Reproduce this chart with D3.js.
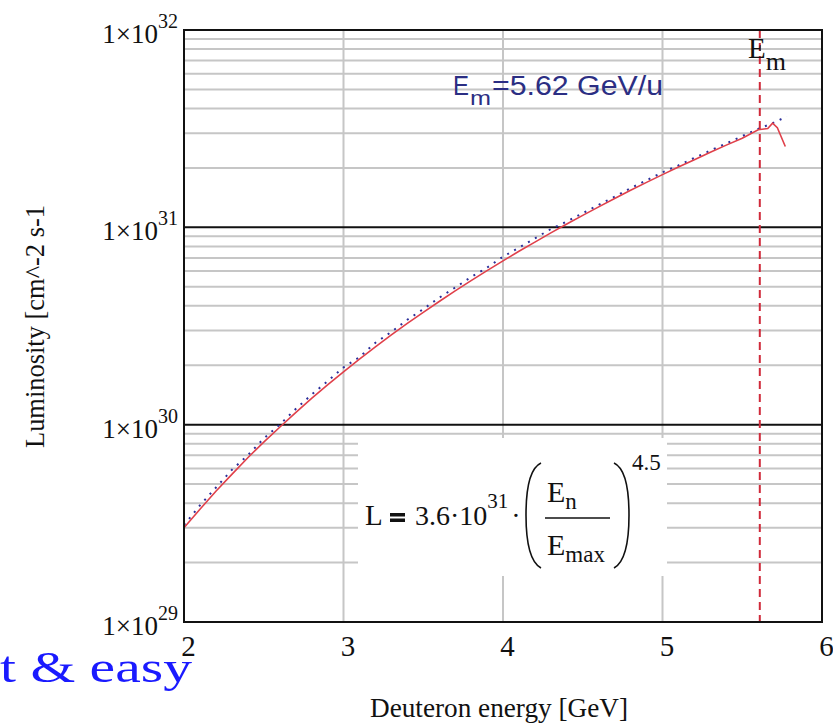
<!DOCTYPE html>
<html><head><meta charset="utf-8">
<script src="https://cdn.jsdelivr.net/npm/d3@7"></script>
<style>html,body{margin:0;padding:0;background:#fff;overflow:hidden} svg{display:block}</style>
</head><body>
<svg id="c" width="833" height="724"></svg>
<script>
// ---- data ----
const energyRed = [2.0,2.1,2.2,2.3,2.4,2.5,2.6,2.7,2.8,2.9,3.0,3.1,3.2,3.3,3.4,3.5,3.6,3.7,3.8,3.9,4.0,4.1,4.2,4.3,4.4,4.5,4.6,4.7,4.8,4.9,5.0,5.1,5.2,5.3,5.4,5.5,5.6,5.66,5.69,5.72,5.77];
const lumRed = [3.0e29,3.73e29,4.6e29,5.6e29,6.8e29,8.16e29,9.7e29,1.15e30,1.36e30,1.59e30,1.85e30,2.15e30,2.48e30,2.85e30,3.26e30,3.71e30,4.21e30,4.76e30,5.37e30,6.03e30,6.76e30,7.56e30,8.42e30,9.37e30,1.04e31,1.15e31,1.27e31,1.40e31,1.54e31,1.69e31,1.85e31,2.02e31,2.20e31,2.40e31,2.61e31,2.83e31,3.12e31,3.17e31,3.37e31,3.2e31,2.57e31];
const energyBlue = [2.0,2.1,2.2,2.3,2.4,2.5,2.6,2.7,2.8,2.9,3.0,3.1,3.2,3.3,3.4,3.5,3.6,3.7,3.8,3.9,4.0,4.1,4.2,4.3,4.4,4.5,4.6,4.7,4.8,4.9,5.0,5.1,5.2,5.3,5.4,5.5,5.6,5.7,5.78];
const lumBlue = [3.1e29,3.9e29,4.8e29,5.9e29,7.0e29,8.5e29,1.0e30,1.2e30,1.42e30,1.66e30,1.95e30,2.2e30,2.6e30,2.95e30,3.4e30,3.85e30,4.4e30,4.95e30,5.6e30,6.25e30,7.1e30,7.9e30,8.8e30,9.8e30,1.07e31,1.18e31,1.3e31,1.43e31,1.58e31,1.73e31,1.9e31,2.06e31,2.25e31,2.45e31,2.66e31,2.9e31,3.15e31,3.4e31,3.65e31];
const xTicks = [2,3,4,5,6];
const xGridTicks = [3,4,5];
const yDecades = [1e29,1e30,1e31,1e32];
const yExponents = ["29","30","31","32"];
const minorMults = [2,3,4,5,6,7,8,9];
const eMarker = 5.61;

// ---- layout ----
const svg = d3.select("#c");
const x = d3.scaleLinear().domain([2,6]).range([184,822]);
const y = d3.scaleLog().domain([1e29,1e32]).range([622,30]);
const serif = "'Liberation Serif','Times New Roman',serif";
const sans = "'Liberation Sans',Arial,sans-serif";

svg.append("rect").attr("width",833).attr("height",724).attr("fill","#fff");

// minor horizontal grid
const minors = [];
yDecades.slice(0,3).forEach(d => minorMults.forEach(m => minors.push(d*m)));
svg.append("g").selectAll("line").data(minors).join("line")
  .attr("x1",x(2)).attr("x2",x(6)).attr("y1",d=>y(d)).attr("y2",d=>y(d))
  .attr("stroke","#c6c6c6").attr("stroke-width",2);
// vertical grid
svg.append("g").selectAll("line").data(xGridTicks).join("line")
  .attr("x1",d=>x(d)).attr("x2",d=>x(d)).attr("y1",y(1e32)).attr("y2",y(1e29))
  .attr("stroke","#c6c6c6").attr("stroke-width",2);
// major horizontal
svg.append("g").selectAll("line").data([1e30,1e31]).join("line")
  .attr("x1",x(2)).attr("x2",x(6)).attr("y1",d=>y(d)).attr("y2",d=>y(d))
  .attr("stroke","#111").attr("stroke-width",2);

// formula box (white)
svg.append("rect").attr("x",358).attr("y",438).attr("width",309).attr("height",138).attr("fill","#fff");

// blue dotted data
const lineGen = d3.line().x(d=>x(d[0])).y(d=>y(d[1]));
svg.append("path").datum(energyBlue.map((e,i)=>[e,lumBlue[i]]))
  .attr("d",lineGen).attr("fill","none").attr("stroke","#2b2f9a")
  .attr("stroke-width",2).attr("stroke-dasharray","2,6");
// red fit line
svg.append("path").datum(energyRed.map((e,i)=>[e,lumRed[i]]))
  .attr("d",lineGen).attr("fill","none").attr("stroke","#e0404a")
  .attr("stroke-width",1.6);

// marker dashed vertical
svg.append("line").attr("x1",x(eMarker)).attr("x2",x(eMarker))
  .attr("y1",y(1e32)).attr("y2",y(1e29))
  .attr("stroke","#d02a3a").attr("stroke-width",2).attr("stroke-dasharray","8,5");

// border
svg.append("rect").attr("x",x(2)).attr("y",y(1e32)).attr("width",x(6)-x(2)).attr("height",y(1e29)-y(1e32))
  .attr("fill","none").attr("stroke","#111").attr("stroke-width",2);

// x axis labels
const xAxis = d3.axisBottom(x).tickValues(xTicks).tickSize(0).tickPadding(0).tickFormat(d3.format("d"));
const gx = svg.append("g").attr("transform",`translate(4,${y(1e29)})`).call(xAxis);
gx.select(".domain").remove();
gx.selectAll("text").attr("font-family",serif).attr("font-size",29).attr("fill","#111")
  .attr("dy",null).attr("y",34);

// y axis labels (single text with superscript tspan)
const gy = svg.append("g");
yDecades.forEach((d,i) => {
  const t = gy.append("text").attr("x",178).attr("y",y(d)+13).attr("text-anchor","end")
    .attr("font-family",serif).attr("fill","#111");
  t.append("tspan").attr("font-size",27).text("1×10");
  t.append("tspan").attr("font-size",20).attr("dy",-15).text(yExponents[i]);
});

// axis titles
svg.append("text").attr("x",370).attr("y",717).attr("font-family",serif).attr("font-size",28)
  .attr("fill","#111").attr("textLength",258).attr("lengthAdjust","spacingAndGlyphs").text("Deuteron energy [GeV]");
svg.append("text").attr("transform","translate(44,448) rotate(-90)").attr("x",0).attr("y",0)
  .attr("font-family",serif).attr("font-size",28).attr("fill","#111")
  .attr("textLength",243).attr("lengthAdjust","spacingAndGlyphs").text("Luminosity [cm^-2 s-1");

// E_m label top right
const em = svg.append("text").attr("x",748).attr("y",58).attr("font-family",serif).attr("fill","#111");
em.append("tspan").attr("font-size",29).text("E");
em.append("tspan").attr("font-size",26).attr("dy",12).text("m");

// E_m = 5.62 GeV/u label
const navy = "#2b2e83";
svg.append("text").attr("x",453).attr("y",95).attr("font-family",sans).attr("font-size",27).attr("fill",navy)
  .attr("textLength",16).attr("lengthAdjust","spacingAndGlyphs").text("E");
svg.append("text").attr("x",470).attr("y",105).attr("font-family",sans).attr("font-size",21).attr("fill",navy)
  .attr("textLength",21).attr("lengthAdjust","spacingAndGlyphs").text("m");
svg.append("text").attr("x",492).attr("y",95).attr("font-family",sans).attr("font-size",27).attr("fill",navy)
  .attr("textLength",171).attr("lengthAdjust","spacingAndGlyphs").text("=5.62 GeV/u");

// formula
const f = svg.append("g").attr("font-family",serif).attr("fill","#111");
f.append("text").attr("x",365).attr("y",525).attr("font-size",29).text("L");
f.append("rect").attr("x",390).attr("y",513).attr("width",15).attr("height",3.5);
f.append("rect").attr("x",390).attr("y",518.5).attr("width",15).attr("height",3.5);
const c = f.append("text").attr("x",415).attr("y",525);
c.append("tspan").attr("font-size",28).text("3.6·10");
c.append("tspan").attr("font-size",21).attr("dy",-17).text("31");
c.append("tspan").attr("font-size",28).attr("dy",17).attr("dx",3).text("·");
f.append("path").attr("d","M541,463 Q526,470 526,515 Q526,560 541,568").attr("fill","none").attr("stroke","#111").attr("stroke-width",1.6);
f.append("path").attr("d","M614,463 Q629,470 629,515 Q629,560 614,568").attr("fill","none").attr("stroke","#111").attr("stroke-width",1.6);
const num = f.append("text").attr("x",547).attr("y",502);
num.append("tspan").attr("font-size",30).text("E");
num.append("tspan").attr("font-size",23).attr("dy",7).text("n");
f.append("line").attr("x1",545).attr("x2",610).attr("y1",518).attr("y2",518).attr("stroke","#111").attr("stroke-width",1.6);
const den = f.append("text").attr("x",547).attr("y",555);
den.append("tspan").attr("font-size",30).text("E");
den.append("tspan").attr("font-size",23).attr("dy",7).text("max");
f.append("text").attr("x",632).attr("y",470).attr("font-size",23).text("4.5");

// overlay text from slide
svg.append("text").attr("x",0).attr("y",682).attr("font-family",serif).attr("font-size",45)
  .attr("fill","#1a1aff").attr("textLength",192).attr("lengthAdjust","spacingAndGlyphs").text("t & easy");
</script>
</body></html>
